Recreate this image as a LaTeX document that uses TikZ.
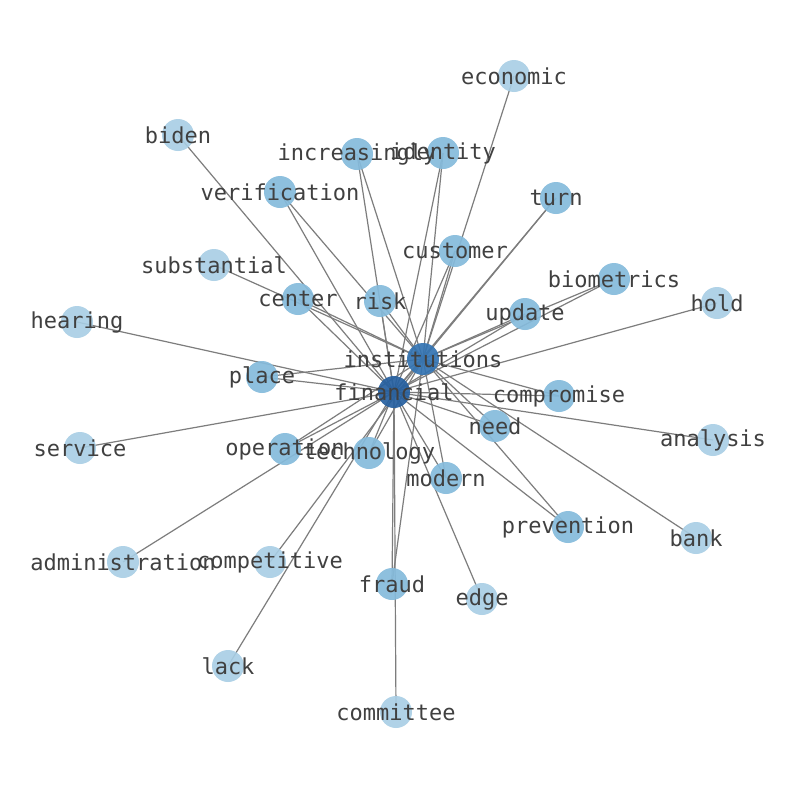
\documentclass[tikz,border=0pt]{standalone}
\usepackage{fontspec}
\setmonofont{DejaVu Sans Mono}
\definecolor{lightn}{RGB}{168,206,229}
\definecolor{midn}{RGB}{133,187,220}
\definecolor{instc}{RGB}{52,116,178}
\definecolor{finc}{RGB}{38,96,160}
\definecolor{txt}{RGB}{64,64,64}
\definecolor{edgec}{RGB}{125,125,125}
\begin{document}
\begin{tikzpicture}[x=1pt,y=-1pt,
  vtx/.style={circle,minimum size=32pt,inner sep=0pt,draw=none},
  lt/.style={vtx,fill=lightn},
  md/.style={vtx,fill=midn},
  lbl/.style={text=txt,font=\ttfamily\fontsize{22}{24}\selectfont,inner sep=0pt},
  lnk/.style={draw=edgec,line width=1.2pt}]
\useasboundingbox (0,0) rectangle (794,790);
\fill[white] (0,0) rectangle (794,790);
% coordinates
\coordinate (economic) at (514,76);
\coordinate (biden) at (178,135);
\coordinate (increasingly) at (357,154);
\coordinate (identity) at (443,153);
\coordinate (verification) at (280,192);
\coordinate (turn) at (556,198);
\coordinate (customer) at (455,251);
\coordinate (substantial) at (214,265);
\coordinate (biometrics) at (614,279);
\coordinate (center) at (298,299);
\coordinate (risk) at (380,301);
\coordinate (hold) at (717,303);
\coordinate (hearing) at (77,322);
\coordinate (update) at (525,314);
\coordinate (institutions) at (423,359);
\coordinate (place) at (262,377);
\coordinate (financial) at (394,392);
\coordinate (compromise) at (559,396);
\coordinate (need) at (495,426);
\coordinate (analysis) at (713,440);
\coordinate (service) at (80,448);
\coordinate (operation) at (285,449);
\coordinate (technology) at (369,453);
\coordinate (modern) at (446,478);
\coordinate (prevention) at (568,527);
\coordinate (bank) at (696,538);
\coordinate (administration) at (123,562);
\coordinate (competitive) at (270,562);
\coordinate (fraud) at (392,584);
\coordinate (edge) at (482,599);
\coordinate (lack) at (228,666);
\coordinate (committee) at (396,712);
% edges
\foreach \n in {increasingly,identity,verification,turn,customer,biometrics,center,risk,update,place,compromise,need,operation,technology,modern,prevention,fraud}{
  \draw[lnk] (\n) -- (financial);
  \draw[lnk] (\n) -- (institutions);
}
\foreach \n in {biden,hold,hearing,analysis,service,administration,edge,lack,committee}{
  \draw[lnk] (\n) -- (financial);
}
\foreach \n in {economic,substantial,competitive,bank}{
  \draw[lnk] (\n) -- (institutions);
}
\draw[lnk] (financial) -- (institutions);
% nodes
\foreach \n in {economic,biden,substantial,hold,hearing,analysis,service,administration,competitive,edge,lack,committee,bank}{
  \node[lt,opacity=0.9] (n-\n) at (\n) {};
}
\foreach \n in {increasingly,identity,verification,turn,customer,biometrics,center,risk,update,place,compromise,need,operation,technology,modern,prevention,fraud}{
  \node[md,opacity=0.92] (n-\n) at (\n) {};
}
\node[vtx,fill=instc,opacity=0.92] (n-institutions) at (institutions) {};
\node[vtx,fill=finc,opacity=0.92] (n-financial) at (financial) {};
% labels
\foreach \n in {economic,biden,increasingly,identity,verification,turn,customer,substantial,biometrics,center,risk,hold,hearing,update,institutions,place,financial,compromise,need,analysis,service,operation,technology,modern,prevention,bank,administration,competitive,fraud,edge,lack,committee}{
  \node[lbl] at (n-\n) {\n};
}
\end{tikzpicture}
\end{document}
